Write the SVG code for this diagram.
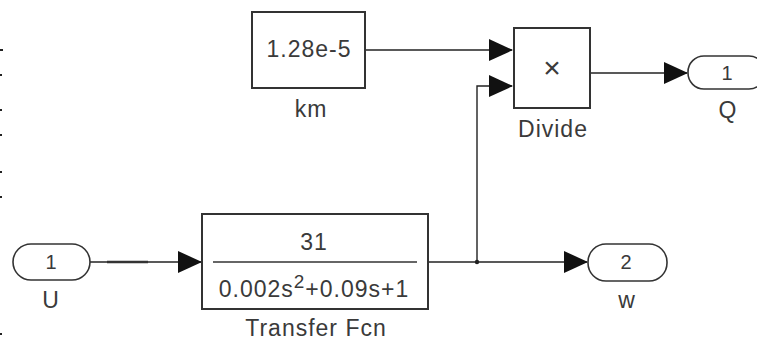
<svg xmlns="http://www.w3.org/2000/svg" width="757" height="343" viewBox="0 0 757 343">
<defs>
<style>
.blk{fill:#fff;stroke:#333;stroke-width:2}
.port{fill:#fff;stroke:#333;stroke-width:1.6}
.ln{fill:none;stroke:#222;stroke-width:1.4}
.t{font-family:"Liberation Sans",Arial,sans-serif;font-size:23px;letter-spacing:1px;fill:#3a3a3a;text-anchor:middle}
.d{font-size:20px;letter-spacing:0}
.x{font-size:30px;letter-spacing:0}
.tick{fill:#222}
</style>
<marker id="ahb" markerWidth="24" markerHeight="22" refX="23" refY="11" orient="auto" markerUnits="userSpaceOnUse" viewBox="0 0 24 22">
<path d="M0,0 L24,11 L0,22 Z" fill="#111"/>
</marker>
</defs>
<rect width="757" height="343" fill="#fff"/>
<g id="edge-ticks">
<rect class="tick" x="0" y="49" width="3" height="2"/>
<rect class="tick" x="0" y="74" width="2" height="2"/>
<rect class="tick" x="0" y="109" width="2" height="2"/>
<rect class="tick" x="0" y="134" width="2" height="2"/>
<rect class="tick" x="0" y="171" width="2" height="2"/>
<rect class="tick" x="0" y="196" width="2" height="2"/>
<rect class="tick" x="0" y="333" width="2" height="2"/>
</g>
<g id="connectors">
<line class="ln" x1="90" y1="262" x2="201" y2="262" marker-end="url(#ahb)"/>
<line x1="107" y1="262" x2="148" y2="262" stroke="#333" stroke-width="2.6"/>
<line class="ln" x1="365" y1="50" x2="512" y2="50" marker-end="url(#ahb)"/>
<line class="ln" x1="428" y1="262" x2="587" y2="262" marker-end="url(#ahb)"/>
<polyline class="ln" points="477,262 477,86 512,86" marker-end="url(#ahb)"/>
<line class="ln" x1="590" y1="73" x2="687" y2="73" marker-end="url(#ahb)"/>
<circle cx="477" cy="262" r="2.2" fill="#222"/>
</g>
<g id="U">
<rect class="port" x="13" y="244" width="77" height="36" rx="18"/>
<text class="t d" x="51" y="269">1</text>
<text class="t" x="51" y="308">U</text>
</g>
<g id="km">
<rect class="blk" x="252" y="12" width="113" height="76"/>
<text class="t" x="309" y="57">1.28e-5</text>
<text class="t" x="311" y="117">km</text>
</g>
<g id="TransferFcn">
<rect class="blk" x="202" y="214" width="226" height="95"/>
<text class="t" x="314" y="250">31</text>
<line x1="213" y1="262" x2="417" y2="262" stroke="#333" stroke-width="1.4"/>
<text class="t" x="314" y="297">0.002s<tspan dy="-9" font-size="19">2</tspan><tspan dy="9">+0.09s+1</tspan></text>
<text class="t" x="316" y="336">Transfer Fcn</text>
</g>
<g id="Divide">
<rect class="blk" x="514" y="28" width="76" height="80"/>
<text class="t x" x="552" y="78">×</text>
<text class="t" x="553" y="137">Divide</text>
</g>
<g id="Q">
<rect class="port" x="688" y="56" width="77" height="33" rx="16"/>
<text class="t d" x="727" y="80">1</text>
<text class="t" x="728" y="118">Q</text>
</g>
<g id="w">
<rect class="port" x="588" y="244" width="79" height="37" rx="18"/>
<text class="t d" x="626" y="269">2</text>
<text class="t" x="627" y="308">w</text>
</g>
</svg>
